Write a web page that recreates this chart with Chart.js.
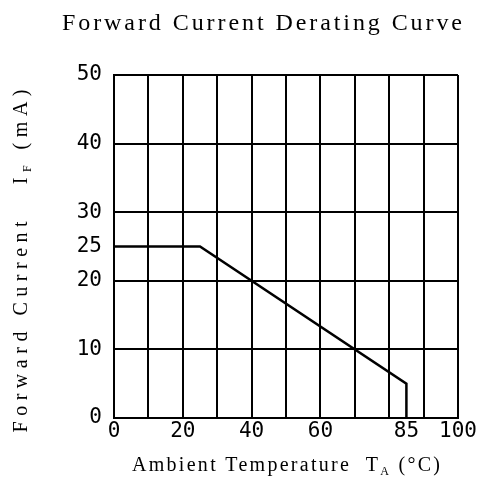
<!DOCTYPE html>
<html>
<head>
<meta charset="utf-8">
<script src="https://cdn.jsdelivr.net/npm/chart.js@4/dist/chart.umd.min.js"></script>
<style>
  html, body { margin: 0; padding: 0; background: #fff; }
  #wrap { width: 489px; height: 479px; }
</style>
</head>
<body>
<div id="wrap"><canvas id="derating"></canvas></div>
<script>
// derating curve: flat at rated current, then linear down to max temp
const tempC = [0, 25, 85, 85];
const currentMA = [25, 25, 5, 0];

const xGrid = [0, 10, 20, 30, 40, 50, 60, 70, 80, 85, 90, 100];
const xLabels = [0, 20, 40, 60, 85, 100];
const yTicks = [0, 10, 20, 25, 30, 40, 50];

const chartTitle = "Forward Current Derating Curve";
const xTitle = [{ t: "Ambient Temperature  T" }, { t: "A", sub: true }, { t: " (°C)" }];
const yTitle = [{ t: "Forward Current   I" }, { t: "F", sub: true }, { t: " (mA)" }];

const serif = "'Liberation Serif', 'Times New Roman', serif";

// draw a run of text pieces (some subscripted), centred on x, spread to width
function drawRich(ctx, parts, x, y, size, width) {
  const fontFor = p => `${p.sub ? Math.round(size * 0.6) : size}px ${serif}`;
  ctx.letterSpacing = "0px";
  let natural = 0, chars = 0;
  parts.forEach(p => { ctx.font = fontFor(p); natural += ctx.measureText(p.t).width; chars += p.t.length; });
  const sp = Math.max(0, (width - natural) / (chars - 1));
  ctx.letterSpacing = sp + "px";
  let cx = x - width / 2;
  ctx.textAlign = "left";
  ctx.textBaseline = "middle";
  parts.forEach(p => {
    ctx.font = fontFor(p);
    ctx.fillText(p.t, cx, p.sub ? y + size * 0.3 : y);
    cx += ctx.measureText(p.t).width;
  });
  ctx.letterSpacing = "0px";
}

const titles = {
  id: "titles",
  afterDraw(chart) {
    const ctx = chart.ctx;
    ctx.save();
    ctx.fillStyle = "#000";
    drawRich(ctx, [{ t: chartTitle }], 262, 24, 24, 400);
    drawRich(ctx, xTitle, 286, 466, 20, 308);
    ctx.translate(22, 261);
    ctx.rotate(-Math.PI / 2);
    drawRich(ctx, yTitle, 0, 0, 20, 343);
    ctx.restore();
  }
};

new Chart(document.getElementById("derating"), {
  type: "line",
  data: {
    datasets: [{
      data: tempC.map((t, i) => ({ x: t, y: currentMA[i] })),
      borderColor: "#000",
      borderWidth: 2.5,
      pointRadius: 0,
      tension: 0,
      fill: false
    }]
  },
  options: {
    responsive: true,
    maintainAspectRatio: false,
    animation: false,
    layout: { padding: { top: 75, right: 31, left: 0, bottom: 0 } },
    plugins: { legend: { display: false }, title: { display: false }, tooltip: { enabled: false } },
    scales: {
      x: {
        type: "linear",
        min: 0, max: 100,
        afterBuildTicks: s => { s.ticks = xGrid.map(v => ({ value: v })); },
        afterFit: s => { s.height = 61; },
        border: { display: true, color: "#000", width: 2 },
        grid: {
          color: c => (c.tick && c.tick.value === 85 ? "rgba(0,0,0,0)" : "#000"),
          lineWidth: 2,
          drawTicks: false
        },
        ticks: {
          autoSkip: false,
          maxRotation: 0,
          padding: 1,
          color: "#000",
          font: { family: "'DejaVu Sans Mono', monospace", size: 21 },
          callback: v => (xLabels.includes(v) ? String(v) : "")
        }
      },
      y: {
        type: "linear",
        min: 0, max: 50,
        afterBuildTicks: s => { s.ticks = yTicks.map(v => ({ value: v })); },
        afterFit: s => { s.width = 114; },
        border: { display: true, color: "#000", width: 2 },
        grid: {
          color: c => (c.tick && c.tick.value === 25 ? "rgba(0,0,0,0)" : "#000"),
          lineWidth: 2,
          drawTicks: false
        },
        ticks: {
          autoSkip: false,
          padding: 12,
          color: "#000",
          font: { family: "'DejaVu Sans Mono', monospace", size: 21 },
          callback: v => String(v)
        }
      }
    }
  },
  plugins: [titles]
});
</script>
</body>
</html>
